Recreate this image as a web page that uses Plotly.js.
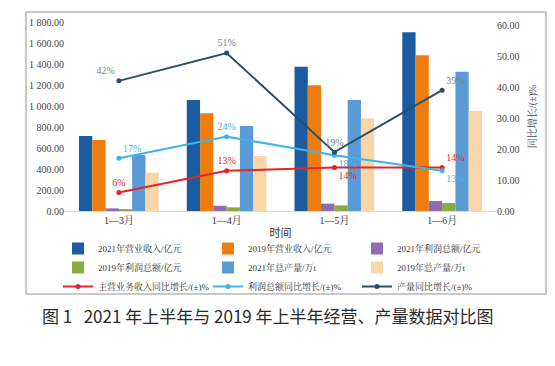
<!DOCTYPE html>
<html>
<head>
<meta charset="utf-8">
<script src="https://cdn.plot.ly/plotly-3.0.1.min.js"></script>
<style>html,body{margin:0;padding:0;background:#fff;}#chart{width:555px;height:366px;}</style>
</head>
<body>
<div id="chart"></div>
<script>
const categories = ["1—3月", "1—4月", "1—5月", "1—6月"];
const revenue2021 = [715, 1057, 1374, 1702];
const revenue2019 = [676, 930, 1197, 1483];
const profit2021 = [25, 50, 70, 95];
const profit2019 = [18, 35, 54, 76];
const output2021 = [533, 810, 1057, 1327];
const output2019 = [365, 524, 883, 952];
const revenueYoY = [6, 13, 14, 14];
const profitYoY = [17, 24, 18, 13];
const outputYoY = [42, 51, 19, 39];
const leftTicks = [0, 200, 400, 600, 800, 1000, 1200, 1400, 1600, 1800];
const rightTicks = [0, 10, 20, 30, 40, 50, 60];

const serif = "Liberation Serif, Noto Serif CJK SC, Noto Sans CJK SC, serif";
const fmtLeft = v => { const s = v.toFixed(2); const [i, d] = s.split('.'); return i.replace(/\B(?=(\d{3})+(?!\d))/g, ' ') + '.' + d; };

function bar(name, y, color, legend) {
  return { type: 'bar', name, x: categories, y, marker: { color }, yaxis: 'y', legend };
}
function line(name, y, color, textColor, positions, legend) {
  return {
    type: 'scatter', mode: 'lines+markers+text', name, x: categories, y, yaxis: 'y2', legend,
    line: { color, width: 2 }, marker: { color, size: 5 },
    text: y.map(v => v + '%'), textposition: positions,
    textfont: { family: serif, size: 10, color: textColor }
  };
}

const data = [
  bar('2021年营业收入/亿元', revenue2021, '#1a5c9f', 'legend'),
  bar('2019年营业收入/亿元', revenue2019, '#ed7d0f', 'legend2'),
  bar('2021年利润总额/亿元', profit2021, '#8e6bb3', 'legend3'),
  bar('2019年利润总额/亿元', profit2019, '#8aac3f', 'legend'),
  bar('2021年总产量/万t', output2021, '#5b9bd5', 'legend2'),
  bar('2019年总产量/万t', output2019, '#fad7a8', 'legend3'),
  line('主营业务收入同比增长/(±)%', revenueYoY, '#e8232a', '#e8232a', ['top center', 'top center', 'bottom right', 'top right'], 'legend'),
  line('利润总额同比增长/(±)%', profitYoY, '#3cb6e6', '#3cb6e6', ['top right', 'top center', 'bottom right', 'bottom right'], 'legend2'),
  line('产量同比增长/(±)%', outputYoY, '#24506a', '#6f7f95', ['top left', 'top center', 'top center', 'top right'], 'legend3')
];

const L = 65, R = 59, T = 22, B = 155;
const W = 555 - L - R, H = 366 - T - B;
const px = x => (x - L) / W;
const py = y => (366 - B - y) / H;

const legendBase = x => ({
  orientation: 'v', x: px(x), y: py(234), xanchor: 'left', yanchor: 'top',
  traceorder: 'normal', font: { family: serif, size: 9, color: '#333' },
  itemwidth: 30, bgcolor: 'rgba(0,0,0,0)', tracegroupgap: 0
});

const layout = {
  width: 555, height: 366,
  margin: { l: L, r: R, t: T, b: B },
  paper_bgcolor: '#ffffff', plot_bgcolor: '#ffffff',
  barmode: 'group', bargap: 0.26, bargroupgap: 0,
  showlegend: true,
  font: { family: serif, size: 10, color: '#333' },
  xaxis: {
    type: 'category', range: [-0.5, 3.5], showline: true, linecolor: '#d9d9d9', linewidth: 1,
    showgrid: false, zeroline: false, ticks: '',
    tickfont: { family: serif, size: 10, color: '#333' },
    title: { text: '时间', standoff: 4, font: { family: 'Noto Sans CJK SC, sans-serif', size: 11, color: '#333' } }
  },
  yaxis: {
    range: [0, 1800], tickvals: leftTicks, ticktext: leftTicks.map(fmtLeft),
    showgrid: false, zeroline: false, showline: false, ticks: '',
    tickfont: { family: serif, size: 10, color: '#444' }
  },
  yaxis2: {
    overlaying: 'y', side: 'right', range: [0, 61], tickvals: rightTicks,
    ticktext: rightTicks.map(v => v.toFixed(2)),
    showgrid: false, zeroline: false, showline: false, ticks: '',
    tickfont: { family: serif, size: 10, color: '#444' },
    title: { text: '同比增长/(±)%', standoff: 10, font: { family: serif, size: 10, color: '#444' } }
  },
  legend: legendBase(58),
  legend2: legendBase(208),
  legend3: legendBase(357),
  shapes: [{
    type: 'rect', xref: 'paper', yref: 'paper',
    x0: px(26), x1: px(546), y0: py(294), y1: py(12),
    line: { color: '#c8c8c8', width: 2 }, fillcolor: 'rgba(0,0,0,0)', layer: 'below'
  }],
  annotations: [{
    xref: 'paper', yref: 'paper', x: px(268), y: py(315), xanchor: 'center', yanchor: 'middle',
    showarrow: false, text: '图 1   2021 年上半年与 2019 年上半年经营、产量数据对比图',
    font: { family: 'Noto Sans CJK SC, sans-serif', size: 17, color: '#2a2a2a' }
  }]
};

Plotly.newPlot('chart', data, layout, { displayModeBar: false, staticPlot: true });
</script>
</body>
</html>
